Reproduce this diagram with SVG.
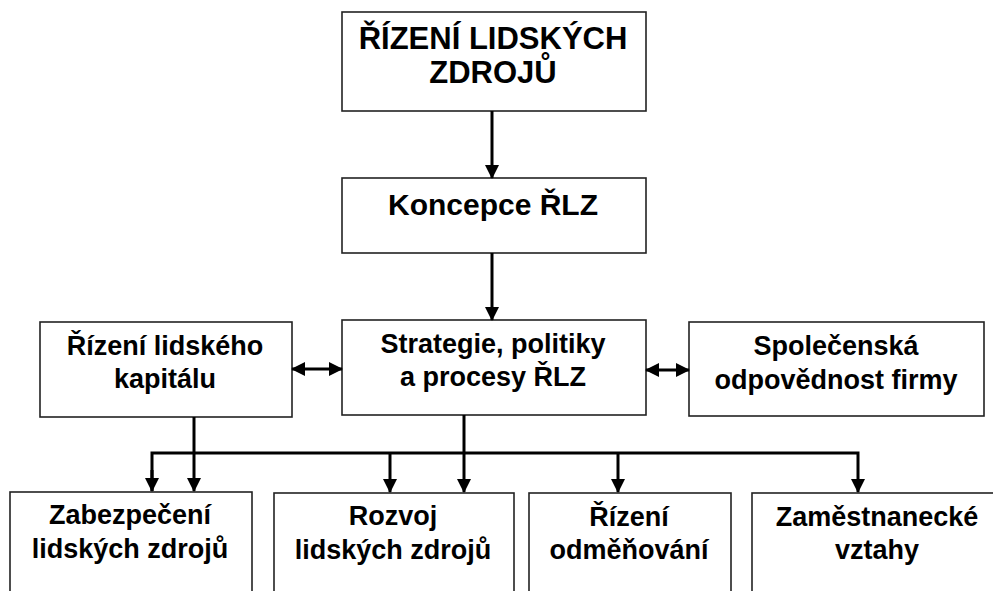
<svg xmlns="http://www.w3.org/2000/svg" width="993" height="591" viewBox="0 0 993 591">
  <style>
    .box { fill: #ffffff; stroke: #222222; stroke-width: 1.6; }
    .lbl { font-family: "Liberation Sans", Arial, sans-serif; font-weight: bold; font-size: 27px; fill: #000000; text-anchor: middle; }
    .big { font-size: 31px; }
    .wire { fill: none; stroke: #000000; stroke-width: 3; }
  </style>
  <defs>
    <marker id="head" markerUnits="userSpaceOnUse" markerWidth="16" markerHeight="16" refX="13" refY="8" orient="auto-start-reverse">
      <path d="M0,1 L14,8 L0,15 Z" fill="#000000"/>
    </marker>
  </defs>
  <rect width="993" height="591" fill="#ffffff"/>

  <g id="rizeni-lz">
    <rect class="box" x="342" y="12" width="304" height="99"/>
    <text class="lbl big" x="493" y="49">ŘÍZENÍ LIDSKÝCH</text>
    <text class="lbl big" x="493" y="83">ZDROJŮ</text>
  </g>

  <g id="koncepce">
    <rect class="box" x="342" y="178" width="304" height="75"/>
    <text class="lbl big" x="493" y="215" style="font-size:30px">Koncepce ŘLZ</text>
  </g>

  <g id="strategie">
    <rect class="box" x="342" y="320" width="304" height="95"/>
    <text class="lbl" x="493" y="353">Strategie, politiky</text>
    <text class="lbl" x="493" y="386">a procesy ŘLZ</text>
  </g>

  <g id="lidsky-kapital">
    <rect class="box" x="40" y="322" width="252" height="95"/>
    <text class="lbl" x="165" y="355">Řízení lidského</text>
    <text class="lbl" x="165" y="388">kapitálu</text>
  </g>

  <g id="spolecenska-odpovednost">
    <rect class="box" x="689" y="322" width="295" height="94"/>
    <text class="lbl" x="836" y="355">Společenská</text>
    <text class="lbl" x="836" y="389">odpovědnost firmy</text>
  </g>

  <g id="zabezpeceni">
    <rect class="box" x="10" y="492" width="242" height="110"/>
    <text class="lbl" x="130" y="524">Zabezpečení</text>
    <text class="lbl" x="130" y="558">lidských zdrojů</text>
  </g>

  <g id="rozvoj">
    <rect class="box" x="274" y="493" width="240" height="110"/>
    <text class="lbl" x="393" y="525">Rozvoj</text>
    <text class="lbl" x="393" y="559">lidských zdrojů</text>
  </g>

  <g id="odmenovani">
    <rect class="box" x="529" y="493" width="202" height="110"/>
    <text class="lbl" x="629" y="526">Řízení</text>
    <text class="lbl" x="629" y="559">odměňování</text>
  </g>

  <g id="vztahy">
    <rect class="box" x="752" y="493" width="252" height="110"/>
    <text class="lbl" x="877" y="526">Zaměstnanecké</text>
    <text class="lbl" x="877" y="559">vztahy</text>
  </g>

  <g id="connectors">
    <line class="wire" x1="492" y1="111" x2="492" y2="178" marker-end="url(#head)"/>
    <line class="wire" x1="492" y1="253" x2="492" y2="320" marker-end="url(#head)"/>
    <line class="wire" x1="292" y1="369" x2="342" y2="369" marker-start="url(#head)" marker-end="url(#head)"/>
    <line class="wire" x1="646" y1="370" x2="689" y2="370" marker-start="url(#head)" marker-end="url(#head)"/>
    <!-- distribution bus feeding the four bottom areas -->
    <polyline class="wire" points="152,491 152,453 858,453 858,492" marker-end="url(#head)"/>
    <line class="wire" x1="152" y1="470" x2="152" y2="491" marker-end="url(#head)"/>
    <line class="wire" x1="194" y1="417" x2="194" y2="491" marker-end="url(#head)"/>
    <line class="wire" x1="464" y1="415" x2="464" y2="492" marker-end="url(#head)"/>
    <line class="wire" x1="390" y1="453" x2="390" y2="492" marker-end="url(#head)"/>
    <line class="wire" x1="618" y1="453" x2="618" y2="492" marker-end="url(#head)"/>
  </g>
</svg>
